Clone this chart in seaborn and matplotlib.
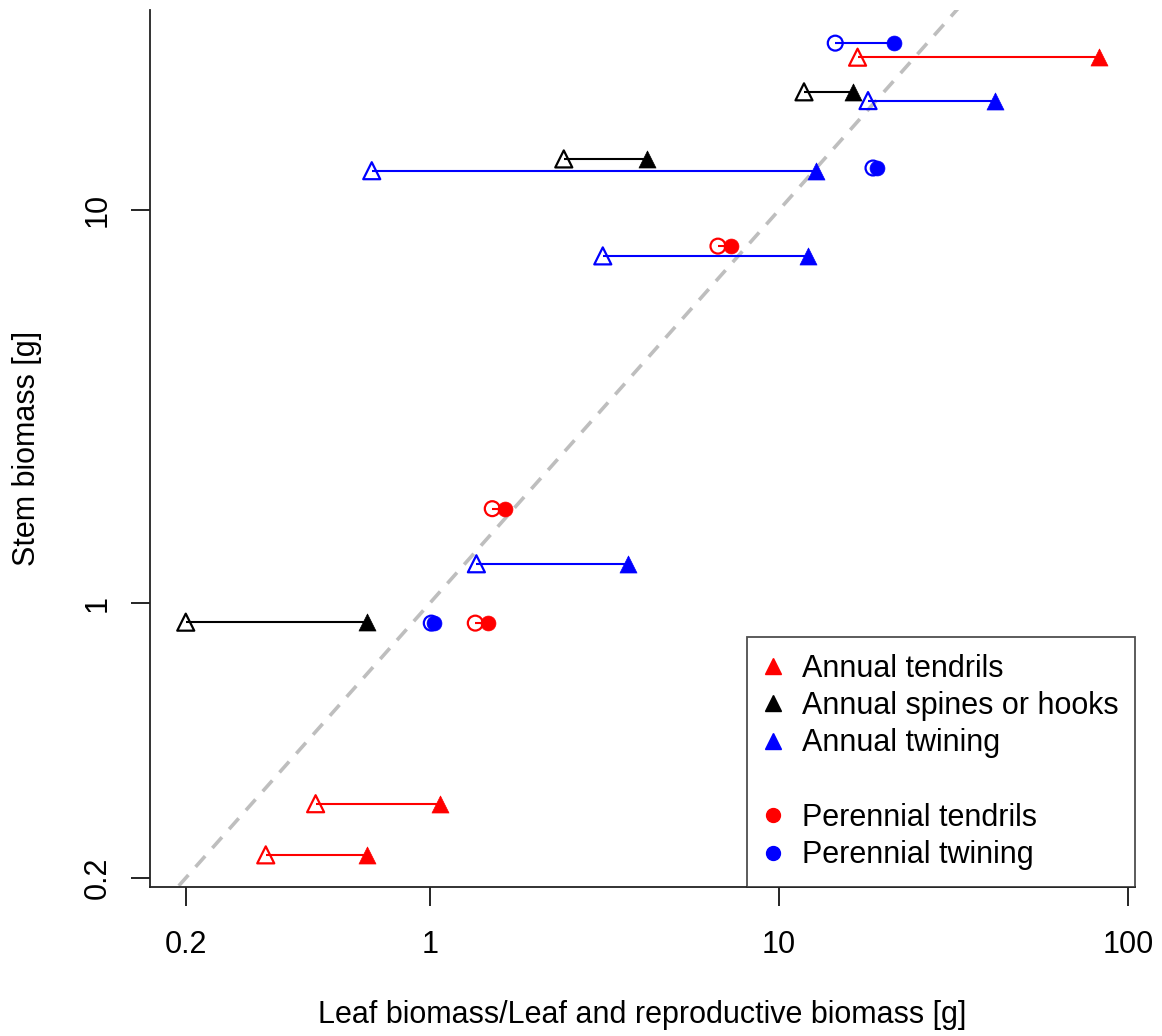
"""
Biomassa do caule vs biomassa foliar (escala log-log)
"""

import numpy as np
import pandas as pd
import matplotlib
matplotlib.use("Agg")
import matplotlib.pyplot as plt
from matplotlib.lines import Line2D
import seaborn as sns


# Dados: cada linha liga o valor aberto ao valor cheio
groups = [
    "Perennial twining", "Annual tendrils", "Annual spines or hooks", "Annual twining",
    "Annual spines or hooks", "Annual twining", "Perennial twining", "Perennial tendrils",
    "Annual twining", "Perennial tendrils", "Annual twining", "Annual spines or hooks",
    "Perennial twining", "Perennial tendrils", "Annual tendrils", "Annual tendrils",
]
stem = [26.6, 24.5, 20.0, 19.0, 13.5, 12.6, 12.8, 8.1,
        7.65, 1.74, 1.26, 0.895, 0.89, 0.89, 0.309, 0.229]
leaf_open = [14.5, 16.8, 11.8, 18.0, 2.42, 0.682, 18.6, 6.69,
             3.13, 1.51, 1.36, 0.20, 1.01, 1.35, 0.471, 0.339]
leaf_filled = [21.4, 82.6, 16.3, 41.6, 4.19, 12.8, 19.1, 7.28,
               12.1, 1.64, 3.69, 0.66, 1.03, 1.47, 1.07, 0.66]

legend_order = ["Annual tendrils", "Annual spines or hooks", "Annual twining",
                "", "Perennial tendrils", "Perennial twining"]
group_color = {
    "Annual tendrils": "#FF0000",
    "Annual spines or hooks": "#000000",
    "Annual twining": "#0000FF",
    "Perennial tendrils": "#FF0000",
    "Perennial twining": "#0000FF",
}
group_marker = {
    "Annual tendrils": "^",
    "Annual spines or hooks": "^",
    "Annual twining": "^",
    "Perennial tendrils": "o",
    "Perennial twining": "o",
}

x_ticks = [0.2, 1, 10, 100]
y_ticks = [0.2, 1, 10]

df = pd.DataFrame({"group": groups, "stem": stem,
                   "leaf_open": leaf_open, "leaf_filled": leaf_filled})

sns.set_style("ticks")
plt.rcParams['font.family'] = ['Liberation Sans', 'DejaVu Sans']
plt.rcParams['font.size'] = 22
plt.rcParams['text.color'] = 'black'
plt.rcParams['axes.labelcolor'] = 'black'
plt.rcParams['xtick.color'] = 'black'
plt.rcParams['ytick.color'] = 'black'

fig = plt.figure(figsize=(11.62, 10.36), dpi=100)
ax = fig.add_axes([150 / 1162, 1 - 887 / 1036, 985 / 1162, 877 / 1036])
ax.set_xscale("log")
ax.set_yscale("log")

# Linha 1:1
ax.plot([0.05, 500], [0.05, 500], color="#BEBEBE", lw=2.6,
        dashes=(4, 3), zorder=1)

for grp, sub in df.groupby("group"):
    c = group_color[grp]
    m = group_marker[grp]
    size = 150 if m == "^" else 115
    ax.hlines(sub["stem"], sub["leaf_open"], sub["leaf_filled"],
              color=c, lw=1.5, zorder=2)
    sns.scatterplot(data=sub, x="leaf_open", y="stem", marker=m, s=size,
                    color=c, facecolor="none", edgecolor=c, linewidth=1.6,
                    ax=ax, zorder=3, legend=False)
    sns.scatterplot(data=sub, x="leaf_filled", y="stem", marker=m, s=size,
                    color=c, edgecolor=c, linewidth=0.5,
                    ax=ax, zorder=4, legend=False)

ax.set_xlim(0.158, 104.7)
ax.set_ylim(0.1897, 32.3)
ax.set_xticks(x_ticks)
ax.set_xticklabels(["0.2", "1", "10", "100"])
ax.set_yticks(y_ticks)
ax.set_yticklabels(["0.2", "1", "10"], rotation=90, va="center")
ax.minorticks_off()
ax.tick_params(axis="x", length=14, width=1.2, pad=17, labelsize=22)
ax.tick_params(axis="y", length=14, width=1.2, pad=13, labelsize=22)
for side in ["top", "right"]:
    ax.spines[side].set_visible(False)
for side in ["left", "bottom"]:
    ax.spines[side].set_linewidth(1.3)
    ax.spines[side].set_color("#222222")

ax.set_xlabel("Leaf biomass/Leaf and reproductive biomass [g]", fontsize=22, labelpad=29)
ax.set_ylabel("Stem biomass [g]", fontsize=22, labelpad=29)

# Legenda com linha em branco entre anuais e perenes
handles = []
for name in legend_order:
    if name == "":
        handles.append(Line2D([], [], linestyle="none", marker=None, label=" "))
    else:
        handles.append(Line2D([], [], linestyle="none", marker=group_marker[name],
                              color=group_color[name],
                              markersize=12 if group_marker[name] == "^" else 10,
                              label=name))
leg = ax.legend(handles=handles, loc="lower right", bbox_to_anchor=(1, 0),
                borderaxespad=0, frameon=True, fancybox=False, fontsize=22,
                labelspacing=0.24, handletextpad=0.65, handlelength=0.6,
                borderpad=0.55)
leg.get_frame().set_edgecolor("#222222")
leg.get_frame().set_linewidth(1.3)

fig.savefig("out.png", dpi=100)
